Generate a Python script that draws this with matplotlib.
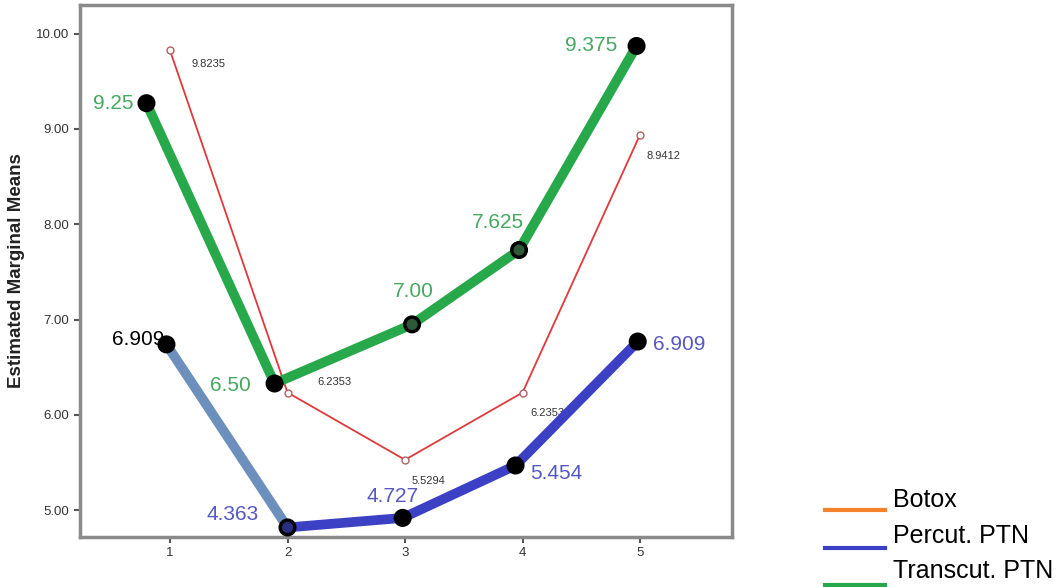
import matplotlib
matplotlib.use("Agg")
import matplotlib.pyplot as plt
from matplotlib.lines import Line2D

# data
sessions = [1, 2, 3, 4, 5]

botox_y = [9.8235, 6.2353, 5.5294, 6.2353, 8.9412]
botox_lab = ["9.8235", "6.2353", "5.5294", "6.2353", "8.9412"]

trans_x = [0.80, 1.89, 3.06, 3.97, 4.97]
trans_y = [9.27, 6.33, 6.95, 7.73, 9.87]
trans_lab = ["9.25", "6.50", "7.00", "7.625", "9.375"]

perc_x = [0.97, 2.00, 2.98, 3.94, 4.98]
perc_y = [6.74, 4.82, 4.92, 5.47, 6.77]
perc_lab = ["6.909", "4.363", "4.727", "5.454", "6.909"]

legend_names = ["Botox", "Percut. PTN", "Transcut. PTN"]
legend_cols = ["#f5822a", "#3b40c4", "#27a84a"]

plt.rcParams['font.family'] = ['Liberation Sans', 'DejaVu Sans']

fig = plt.figure(figsize=(10.59, 5.87), dpi=100)
ax = fig.add_axes([0.0755, 0.0852, 0.6155, 0.9063])

# Botox - thin red line, open markers
ax.plot(sessions, botox_y, color="#e0393b", lw=1.3, zorder=2,
        marker="o", ms=5, mfc="white", mec="#b06060", mew=1)
red_off = [(22, -14), (30, 11), (7, -21), (8, -20), (6, -21)]
for x, y, s, o in zip(sessions, botox_y, botox_lab, red_off):
    ax.annotate(s, (x, y), xytext=o, textcoords="offset pixels",
                ha="left", va="center", fontsize=8, color="#333333", zorder=2)

# Transcut. PTN - thick green
ax.plot(trans_x, trans_y, color="#27a84a", lw=7, zorder=3, solid_capstyle="round")
ax.scatter(trans_x, trans_y, s=110, zorder=4,
           c=["black", "black", "#2e5a3a", "#2e5a3a", "black"],
           edgecolors="black", linewidths=2.5)
g_off = [(-13, 0, "right"), (-24, -2, "right"), (1, 33, "center"),
         (-21, 28, "center"), (-19, 0, "right")]
for x, y, s, (dx, dy, ha) in zip(trans_x, trans_y, trans_lab, g_off):
    ax.annotate(s, (x, y), xytext=(dx, dy), textcoords="offset pixels",
                ha=ha, va="center", fontsize=15, color="#45a860", zorder=5)

# Percut. PTN - first segment light, rest dark blue
ax.plot(perc_x[:2], perc_y[:2], color="#6d8fbe", lw=7, zorder=3)
ax.plot(perc_x[1:], perc_y[1:], color="#3b40c4", lw=7, zorder=3)
ax.scatter(perc_x, perc_y, s=110, zorder=4,
           c=["black", "#2a2e80", "black", "black", "black"],
           edgecolors="black", linewidths=2.5)
b_off = [(-2, 5, "right"), (-29, 13, "right"), (-10, 21, "center"),
         (15, -8, "left"), (15, -3, "left")]
b_col = ["black", "#5558c0", "#5558c0", "#5558c0", "#5558c0"]
for x, y, s, (dx, dy, ha), c in zip(perc_x, perc_y, perc_lab, b_off, b_col):
    ax.annotate(s, (x, y), xytext=(dx, dy), textcoords="offset pixels",
                ha=ha, va="center", fontsize=15, color=c, zorder=5)

ax.set_xlim(0.234, 5.78)
ax.set_ylim(4.72, 10.30)
ax.set_xticks(sessions)
ax.set_yticks([5, 6, 7, 8, 9, 10])
ax.set_yticklabels(["5.00", "6.00", "7.00", "8.00", "9.00", "10.00"])
ax.tick_params(labelsize=9.5, colors="#555555", labelcolor="#333333",
               length=4, width=1.5, direction="out")
for sp in ax.spines.values():
    sp.set_color("#8a8a8a")
    sp.set_linewidth(2.5)
ax.set_ylabel("Estimated Marginal Means", fontsize=13.5, fontweight="bold",
              color="#222222", labelpad=8)

# legend drawn by hand, lines sit below each label
text_y = [0.136, 0.075, 0.0153]
line_y = [0.131, 0.0664, 0.0034]
for name, col, ty, ly in zip(legend_names, legend_cols, text_y, line_y):
    fig.add_artist(Line2D([0.779, 0.836], [ly, ly], color=col, lw=3,
                          transform=fig.transFigure))
    fig.text(0.843, ty, name, fontsize=18, color="black", va="baseline")

fig.savefig("out.png", dpi=100)
